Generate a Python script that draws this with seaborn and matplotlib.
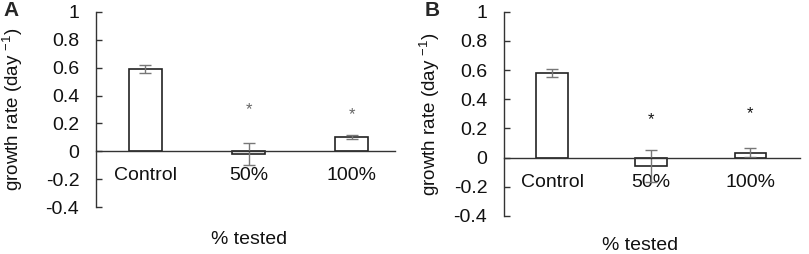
import matplotlib
matplotlib.use("Agg")
import matplotlib.pyplot as plt
import seaborn as sns
import pandas as pd

sns.set_theme(style="white")
plt.rcParams['font.family'] = ['Liberation Sans', 'DejaVu Sans']
plt.rcParams['mathtext.fontset'] = 'custom'
plt.rcParams['mathtext.rm'] = 'Liberation Sans'
plt.rcParams['mathtext.it'] = 'Liberation Sans'

categories = ["Control", "50%", "100%"]
rate_a = [0.59, -0.02, 0.10]
err_a = [0.03, 0.08, 0.015]
star_a = [None, 0.30, 0.26]
rate_b = [0.58, -0.055, 0.035]
err_b = [0.03, 0.11, 0.03]
star_b = [None, 0.26, 0.30]
yticks = [-0.4, -0.2, 0, 0.2, 0.4, 0.6, 0.8, 1.0]
ytick_labels = ["-0.4", "-0.2", "0", "0.2", "0.4", "0.6", "0.8", "1"]

fig = plt.figure(figsize=(8.09, 2.54), dpi=100)
axA = fig.add_axes([96/809, 1-207/254, 299/809, 195/254])
axB = fig.add_axes([504/809, 1-216/254, 296/809, 204.3/254])

def draw(ax, vals, errs, stars, fs, xlim, star_color, xpad):
    df = pd.DataFrame({"cat": categories, "val": vals})
    sns.barplot(data=df, x="cat", y="val", ax=ax, color="white",
                edgecolor="#222222", linewidth=1.2, width=0.32,
                errorbar=None, saturation=1)
    xs = list(range(len(categories)))
    ax.errorbar(xs, vals, yerr=errs, fmt="none", ecolor="#777777",
                elinewidth=1.0, capsize=4.5, capthick=1.0)
    for x, s in zip(xs, stars):
        if s is not None:
            ax.text(x, s, "*", ha="center", va="center", fontsize=12,
                    color=star_color)
    ax.set_ylim(-0.4, 1.0)
    ax.set_xlim(*xlim)
    ax.set_yticks(yticks)
    ax.set_yticklabels(ytick_labels, fontsize=fs)
    ax.tick_params(axis="y", direction="in", length=4, width=1,
                   color="#333333", pad=12, left=True, labelcolor="#111111")
    ax.tick_params(axis="x", length=0, labelsize=fs, pad=xpad,
                   labelcolor="#111111")
    for sp in ["top", "right"]:
        ax.spines[sp].set_visible(False)
    ax.spines["bottom"].set_position(("data", 0))
    ax.spines["bottom"].set_color("#333333")
    ax.spines["left"].set_color("#333333")
    ax.spines["bottom"].set_linewidth(1.0)
    ax.spines["left"].set_linewidth(1.0)
    ax.set_xlabel("")
    ax.set_ylabel(r"growth rate (day $^{-1}$)", fontsize=13.5, color="#111111")
    ax.patch.set_alpha(0)
    return ax

draw(axA, rate_a, err_a, star_a, 14, (-0.48, 2.42), "#666666", 11)
draw(axB, rate_b, err_b, star_b, 14, (-0.485, 2.5), "#111111", 12)

axA.yaxis.set_label_coords((25-96)/299, 0.5)
axB.yaxis.set_label_coords((442-504)/296, 0.5)

fig.text(249/809, 1-240/254, "% tested", ha="center", va="center", fontsize=14, color="#111111")
fig.text(640/809, 1-245/254, "% tested", ha="center", va="center", fontsize=14, color="#111111")
fig.text(3/809, 1-11/254, "A", ha="left", va="center", fontsize=15, fontweight="bold")
fig.text(425/809, 1-10/254, "B", ha="left", va="center", fontsize=15, fontweight="bold")

fig.savefig("out.png", dpi=100)
